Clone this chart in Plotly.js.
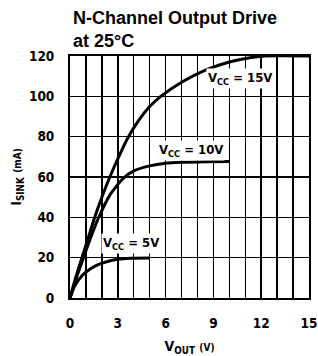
<!DOCTYPE html>
<html>
<head>
<meta charset="utf-8">
<script src="https://cdn.plot.ly/plotly-3.0.1.min.js"></script>
<style>html,body{margin:0;padding:0;background:#fff;}</style>
</head>
<body>
<div id="chart" style="width:318px;height:356px;"></div>
<script>
// Data
const x15 = [0, 0.35, 0.75, 1.15, 1.55, 2.0, 2.5, 3.0, 3.6, 4.3, 5.0, 5.7, 7.0, 8.5, 10.0, 11.2, 12.2, 15];
const y15 = [0, 10, 20, 30, 40, 50, 60, 69, 79, 88, 95, 100, 107, 113, 117, 119, 120, 120];
const x10 = [0, 0.4, 0.85, 1.3, 1.75, 2.5, 3.3, 4.0, 5.0, 6.0, 7.0, 8.5, 10.0];
const y10 = [0, 10, 20, 30, 39, 51, 59, 63, 65.5, 66.8, 67.3, 67.6, 67.7];
const x5 = [0, 0.3, 0.75, 1.2, 1.7, 2.3, 3.0, 3.8, 5.0];
const y5 = [0, 6, 11, 14, 16.3, 18, 19.2, 19.7, 19.8];
const xTicks = [0, 3, 6, 9, 12, 15];
const yTicks = [0, 20, 40, 60, 80, 100, 120];
const titleText = 'N-Channel Output Drive<br>at 25°C';
const labels = [
  {text: 'V<sub>CC</sub> = 15V', x: 10.7, y: 109},
  {text: 'V<sub>CC</sub> = 10V', x: 7.6, y: 73},
  {text: 'V<sub>CC</sub> = 5V', x: 3.8, y: 27}
];

const narrow = '"Liberation Sans Narrow", "DejaVu Sans Condensed", "Arial Narrow", sans-serif';
const lineStyle = {color: '#000', width: 3, shape: 'spline', smoothing: 0.6};
const traces = [
  {x: x15, y: y15, mode: 'lines', line: lineStyle, hoverinfo: 'skip'},
  {x: x10, y: y10, mode: 'lines', line: lineStyle, hoverinfo: 'skip'},
  {x: x5, y: y5, mode: 'lines', line: lineStyle, hoverinfo: 'skip'}
];

const annotations = labels.map(l => ({
  text: l.text, x: l.x, y: l.y, xref: 'x', yref: 'y',
  showarrow: false, bgcolor: '#fff', borderpad: 1,
  font: {family: narrow, size: 13, color: '#000', weight: 700, stretch: 'condensed'}
}));
annotations.push({
  text: titleText, xref: 'paper', yref: 'paper',
  x: 0.004, y: 1 + 50 / 242, xanchor: 'left', yanchor: 'top', align: 'left',
  showarrow: false,
  font: {family: '"Liberation Sans", Arial, sans-serif', size: 18, color: '#000', weight: 700}
});

const layout = {
  width: 318, height: 356,
  margin: {l: 70, r: 9, t: 56, b: 58},
  paper_bgcolor: '#fff', plot_bgcolor: '#fff',
  showlegend: false,
  xaxis: {
    range: [0, 15],
    tickvals: xTicks, ticktext: xTicks.map(String),
    showgrid: true, gridcolor: '#000', gridwidth: 1.5,
    minor: {dtick: 1, tick0: 0, showgrid: true, gridcolor: '#000', gridwidth: 1.5},
    showline: true, linecolor: '#000', linewidth: 2, mirror: true,
    zeroline: false, ticks: '',
    ticklabelstandoff: 12,
    tickfont: {family: narrow, size: 13.5, color: '#000', weight: 700, stretch: 'condensed'},
    title: {
      text: 'V<sub>OUT</sub> <span style="font-size:10px">(V)</span>',
      font: {family: narrow, size: 14, color: '#000', weight: 700, stretch: 'condensed'},
      standoff: 14
    },
    fixedrange: true
  },
  yaxis: {
    range: [0, 120],
    tickvals: yTicks, ticktext: yTicks.map(String),
    showgrid: true, gridcolor: '#000', gridwidth: 1.5,
    showline: true, linecolor: '#000', linewidth: 2, mirror: true,
    zeroline: false, ticks: '',
    ticklabelstandoff: 11,
    tickfont: {family: narrow, size: 13.5, color: '#000', weight: 700, stretch: 'condensed'},
    title: {
      text: 'I<sub>SINK</sub> <span style="font-size:10px">(mA)</span>',
      font: {family: narrow, size: 14, color: '#000', weight: 700, stretch: 'condensed'},
      standoff: 4
    },
    fixedrange: true
  },
  annotations: annotations
};

Plotly.newPlot('chart', traces, layout, {displayModeBar: false, staticPlot: true});
</script>
</body>
</html>
